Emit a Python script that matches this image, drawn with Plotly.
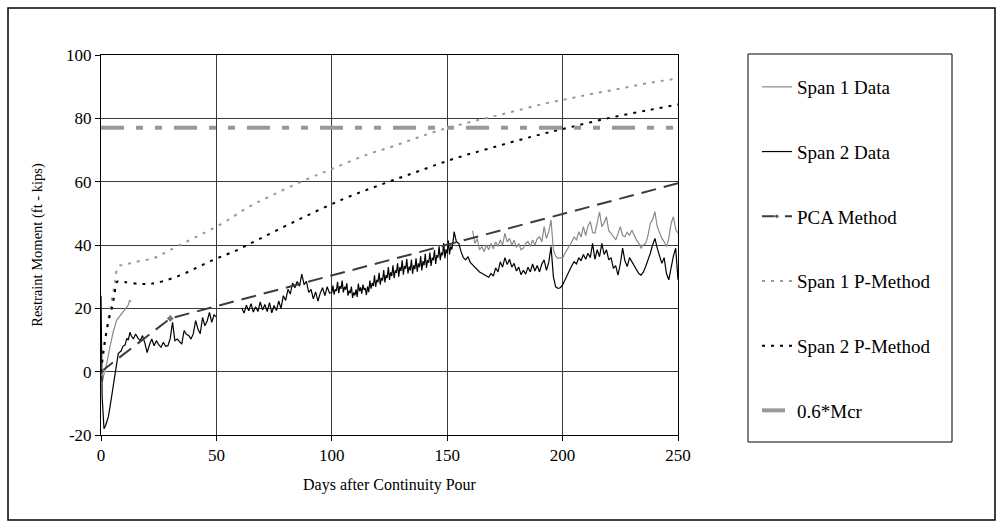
import plotly.graph_objects as go

# ---------------- data ----------------
SPAN2_EARLY_DAYS = [0, 0.2, 0.5, 1.3, 2, 3.2, 4, 4.6, 5.8, 6.8, 7.5, 8.7, 9.5, 10.4, 11.2, 11.8, 12.6]
SPAN2_EARLY_VALS = [24, 5, -8, -18, -17, -14.2, -11, -7.9, -2.1, 2.6, 5.8, 6.5, 8, 8.4, 10.5, 10, 12.5]

SPAN2_A_START = 13  # daily readings, days 13..50
SPAN2_A_VALS = [11.5, 10.3, 11.9, 10.6, 9.8, 11.4, 9.0, 6.0, 8.5, 10.3, 8.2, 9.8, 8.5, 7.7, 9.3, 8.0,
                8.2, 10.5, 15.6, 9.8, 10.3, 9.5, 8.7, 13.0, 11.8, 11.4, 10.3, 12.0, 16.1, 13.5, 12.0,
                17.1, 14.5, 16.0, 18.7, 15.6, 18.0, 17.2]

SPAN2_B_START = 61  # daily readings, days 61..99
SPAN2_B_VALS = [20.1, 18.5, 21.0, 19.2, 21.5, 18.8, 20.5, 19.0, 22.0, 19.5, 21.2, 19.0, 21.8, 18.6,
                20.9, 19.3, 22.3, 20.0, 24.0, 22.5, 26.0, 24.5, 28.0, 26.5, 28.5, 27.0, 30.8, 27.5,
                28.5, 25.0, 26.0, 23.0, 25.2, 22.3, 24.8, 26.5, 24.0, 26.8, 24.8]

SPAN2_C_START = 100  # half-day readings, days 100..153
SPAN2_C_VALS = [25.0, 27.2, 24.3, 26.0, 25.5, 28.4, 24.8, 27.0, 26.2, 28.8, 25.0, 26.8, 25.9, 27.9,
                24.0, 25.6, 24.8, 26.9, 23.3, 25.0, 24.1, 26.0, 23.6, 27.8, 25.4, 26.6, 24.6, 27.5,
                25.8, 26.4, 24.2, 26.9, 25.1, 28.8, 26.2, 28.0, 27.0, 30.4, 26.8, 29.0, 28.2, 31.2,
                27.5, 29.6, 28.8, 32.1, 28.2, 30.5, 29.6, 33.0, 29.0, 31.4, 30.2, 33.6, 29.5, 32.0,
                31.2, 34.2, 30.0, 33.0, 31.8, 35.2, 30.6, 33.4, 32.5, 35.6, 31.0, 33.2, 32.0, 35.4,
                30.9, 33.6, 32.4, 35.8, 31.6, 34.2, 33.0, 36.4, 32.0, 34.9, 33.6, 37.2, 32.8, 35.2,
                34.4, 37.6, 33.4, 36.0, 35.2, 38.4, 34.0, 36.8, 36.0, 39.6, 35.2, 37.6, 36.8, 40.6,
                35.8, 38.6, 37.4, 41.4, 37.0, 39.5, 38.6, 40.8, 44.2]

SPAN2_D_START = 154  # daily readings, days 154..250
SPAN2_D_VALS = [41.0, 40.5, 37.9, 36.0, 35.3, 36.3, 34.5, 33.7, 32.8, 32.1, 31.5, 31.1, 30.5, 30.2,
                29.8, 31.0, 30.2, 32.8, 31.5, 34.7, 33.0, 36.0, 33.8, 35.5, 33.0, 34.2, 31.8, 33.0,
                30.6, 32.0, 30.8, 33.0, 31.5, 34.0, 31.8, 33.5, 31.5, 34.0, 35.3, 32.0, 34.5, 39.5,
                30.0, 26.8, 26.3, 26.5, 27.4, 29.0, 30.5, 32.1, 33.5, 34.7, 34.0, 36.0, 35.0, 37.0,
                35.5, 37.4, 36.0, 40.5, 35.5, 38.5, 36.3, 40.5, 37.0, 38.5, 35.3, 36.0, 32.6, 33.5,
                30.5, 34.0, 39.0, 35.0, 33.2, 36.0, 34.7, 33.5, 32.1, 31.0, 30.5, 31.5, 33.2, 35.0,
                37.4, 40.0, 42.1, 39.0, 36.5, 34.2, 36.0, 31.0, 29.0, 33.2, 36.5, 39.0, 29.0]

SPAN1_EARLY_DAYS = [0, 0.6, 1.2, 2.5, 3.9, 5.3, 6.8, 8.9, 10, 11, 11.8, 12.4, 13]
SPAN1_EARLY_VALS = [0.5, -3.2, -1, 2.6, 7.9, 12.6, 16.3, 18.4, 19.5, 20.5, 21, 22.6, 22]

SPAN1_B_START = 161  # daily readings, days 161..250
SPAN1_B_VALS = [44.5, 40.5, 42.0, 38.5, 39.5, 37.9, 40.0, 38.5, 40.5, 38.8, 41.0, 39.5, 41.6, 40.0,
                43.7, 41.0, 42.1, 40.0, 41.5, 39.2, 40.5, 38.5, 39.0, 40.5, 41.1, 39.5, 41.6, 40.0,
                42.0, 42.6, 41.0, 45.8, 42.0, 44.2, 47.9, 38.5, 36.5, 35.8, 36.0, 35.8, 37.4, 38.5,
                40.0, 41.0, 42.6, 41.5, 44.2, 42.5, 45.8, 43.0, 46.0, 47.4, 44.0, 43.7, 47.0, 50.5,
                45.8, 47.0, 48.9, 44.5, 43.7, 42.5, 41.6, 43.5, 45.8, 43.0, 42.6, 44.0, 43.0, 44.7,
                43.0, 41.6, 40.5, 39.0, 40.0, 40.5, 43.0, 46.8, 48.0, 50.5, 45.8, 44.0, 42.1, 41.0,
                39.5, 42.0, 46.8, 48.9, 45.0, 43.7]

PCA_DAYS = [0, 30, 250]
PCA_VALS = [0, 16.8, 59.5]

P1_DAYS = [0, 1.5, 3, 4.5, 6, 7.5, 10, 12.6, 17, 22.7, 28.5, 38.6, 53, 63, 73, 89, 100, 114.7,
           126.3, 136.3, 147, 158.6, 169.4, 181, 192.5, 203.3, 214, 225.7, 237, 250]
P1_VALS = [0, 8, 16, 22, 28, 33.2, 33.8, 34.2, 35, 35.8, 37.9, 41.6, 47, 51.6, 55.3, 60.7, 64,
           68.4, 71.1, 73.7, 76.3, 78.6, 80.5, 82.6, 84.7, 86.3, 87.9, 89.5, 91.1, 92.6]

P2_DAYS = [0, 1.4, 3.5, 5, 5.9, 7, 10, 17, 22, 32.8, 48.7, 59, 64.8, 85, 105.6, 122.2, 137.9,
           153.6, 170.2, 187.6, 203.3, 220.7, 237.3, 250]
P2_VALS = [0, 8.4, 16.8, 21, 24.7, 28.4, 28.3, 27.7, 27.8, 30, 35.3, 38.4, 40.5, 47.8, 54.7,
           59.3, 63.4, 67.4, 70.9, 74.4, 77.2, 80.2, 82.6, 84.4]

MCR_DAYS = [0, 250]
MCR_VALS = [77, 77]

X_TICKS = [0, 50, 100, 150, 200, 250]
X_TICK_LABELS = ["0", "50", "100", "150", "200", "250"]
Y_TICKS = [-20, 0, 20, 40, 60, 80, 100]
Y_TICK_LABELS = ["-20", "0", "20", "40", "60", "80", "100"]

# ---------------- assemble ----------------
def days(start, n, step=1.0):
    return [start + i * step for i in range(n)]

span2_x = (SPAN2_EARLY_DAYS + days(SPAN2_A_START, len(SPAN2_A_VALS)) + [None]
           + days(SPAN2_B_START, len(SPAN2_B_VALS)) + days(SPAN2_C_START, len(SPAN2_C_VALS), 0.5)
           + days(SPAN2_D_START, len(SPAN2_D_VALS)))
span2_y = SPAN2_EARLY_VALS + SPAN2_A_VALS + [None] + SPAN2_B_VALS + SPAN2_C_VALS + SPAN2_D_VALS
span1_x = SPAN1_EARLY_DAYS + [None] + days(SPAN1_B_START, len(SPAN1_B_VALS))
span1_y = SPAN1_EARLY_VALS + [None] + SPAN1_B_VALS

FONT = "Liberation Serif, Times New Roman, serif"

fig = go.Figure()
fig.add_trace(go.Scatter(x=span1_x, y=span1_y, mode="lines", name="Span 1 Data",
                         line=dict(color="#8a8a8a", width=1.2), legendgroup="a", connectgaps=False))
fig.add_trace(go.Scatter(x=span2_x, y=span2_y, mode="lines", name="Span 2 Data",
                         line=dict(color="#000000", width=1.2), legendgroup="b", connectgaps=False))
fig.add_trace(go.Scatter(x=PCA_DAYS, y=PCA_VALS, mode="lines+markers", name="PCA Method",
                         line=dict(color="#3c3c3c", width=2, dash="15px,8px"),
                         marker=dict(symbol="diamond", size=[6, 6, 0], color="#3c3c3c"),
                         legendgroup="c"))
fig.add_trace(go.Scatter(x=P1_DAYS, y=P1_VALS, mode="lines", name="Span 1 P-Method",
                         line=dict(color="#999999", width=2, dash="3px,6px", shape="spline"),
                         legendgroup="d"))
fig.add_trace(go.Scatter(x=P2_DAYS, y=P2_VALS, mode="lines", name="Span 2 P-Method",
                         line=dict(color="#000000", width=2, dash="3px,6px", shape="spline"),
                         legendgroup="e"))
fig.add_trace(go.Scatter(x=MCR_DAYS, y=MCR_VALS, mode="lines", name="0.6*Mcr",
                         line=dict(color="#999999", width=4, dash="23px,12px,7px,12px,7px,12px"),
                         legendgroup="f"))

L, R, T, B = 101, 322, 55, 90
PW, PH = 1000 - L - R, 525 - T - B

def px_x(p):
    return (p - L) / PW

def px_y(p):
    return (525 - B - p) / PH

fig.update_layout(
    width=1000, height=525,
    margin=dict(l=L, r=R, t=T, b=B),
    paper_bgcolor="white", plot_bgcolor="white",
    font=dict(family=FONT, size=17, color="black"),
    showlegend=True,
    legend=dict(x=px_x(757), y=px_y(68), xanchor="left", yanchor="top",
                bgcolor="rgba(0,0,0,0)", borderwidth=0, tracegroupgap=37,
                font=dict(family=FONT, size=19, color="black")),
    xaxis=dict(range=[0, 250], tickvals=X_TICKS, ticktext=X_TICK_LABELS, ticks="outside", ticklen=5,
               tickcolor="black", showline=True, linecolor="black", linewidth=1, mirror=True,
               tickfont=dict(family=FONT, size=17),
               showgrid=True, gridcolor="#3a3a3a", gridwidth=1, zeroline=False,
               title=dict(text="Days after Continuity Pour", font=dict(family=FONT, size=16), standoff=14)),
    yaxis=dict(range=[-20, 100], tickvals=Y_TICKS, ticktext=Y_TICK_LABELS, ticks="outside", ticklen=5,
               tickcolor="black", showline=True, linecolor="black", linewidth=1, mirror=True,
               tickfont=dict(family=FONT, size=17),
               showgrid=True, gridcolor="#3a3a3a", gridwidth=1, zeroline=False,
               title=dict(text="Restraint Moment (ft - kips)", font=dict(family=FONT, size=14.5), standoff=20)),
    shapes=[
        dict(type="rect", xref="paper", yref="paper", x0=px_x(8), x1=px_x(995), y0=px_y(520), y1=px_y(8),
             line=dict(color="black", width=1.5), fillcolor="rgba(0,0,0,0)", layer="below"),
        dict(type="rect", xref="paper", yref="paper", x0=px_x(748), x1=px_x(952), y0=px_y(442), y1=px_y(54),
             line=dict(color="black", width=1), fillcolor="rgba(0,0,0,0)", layer="below"),
    ],
)

fig.write_html("out.html")
